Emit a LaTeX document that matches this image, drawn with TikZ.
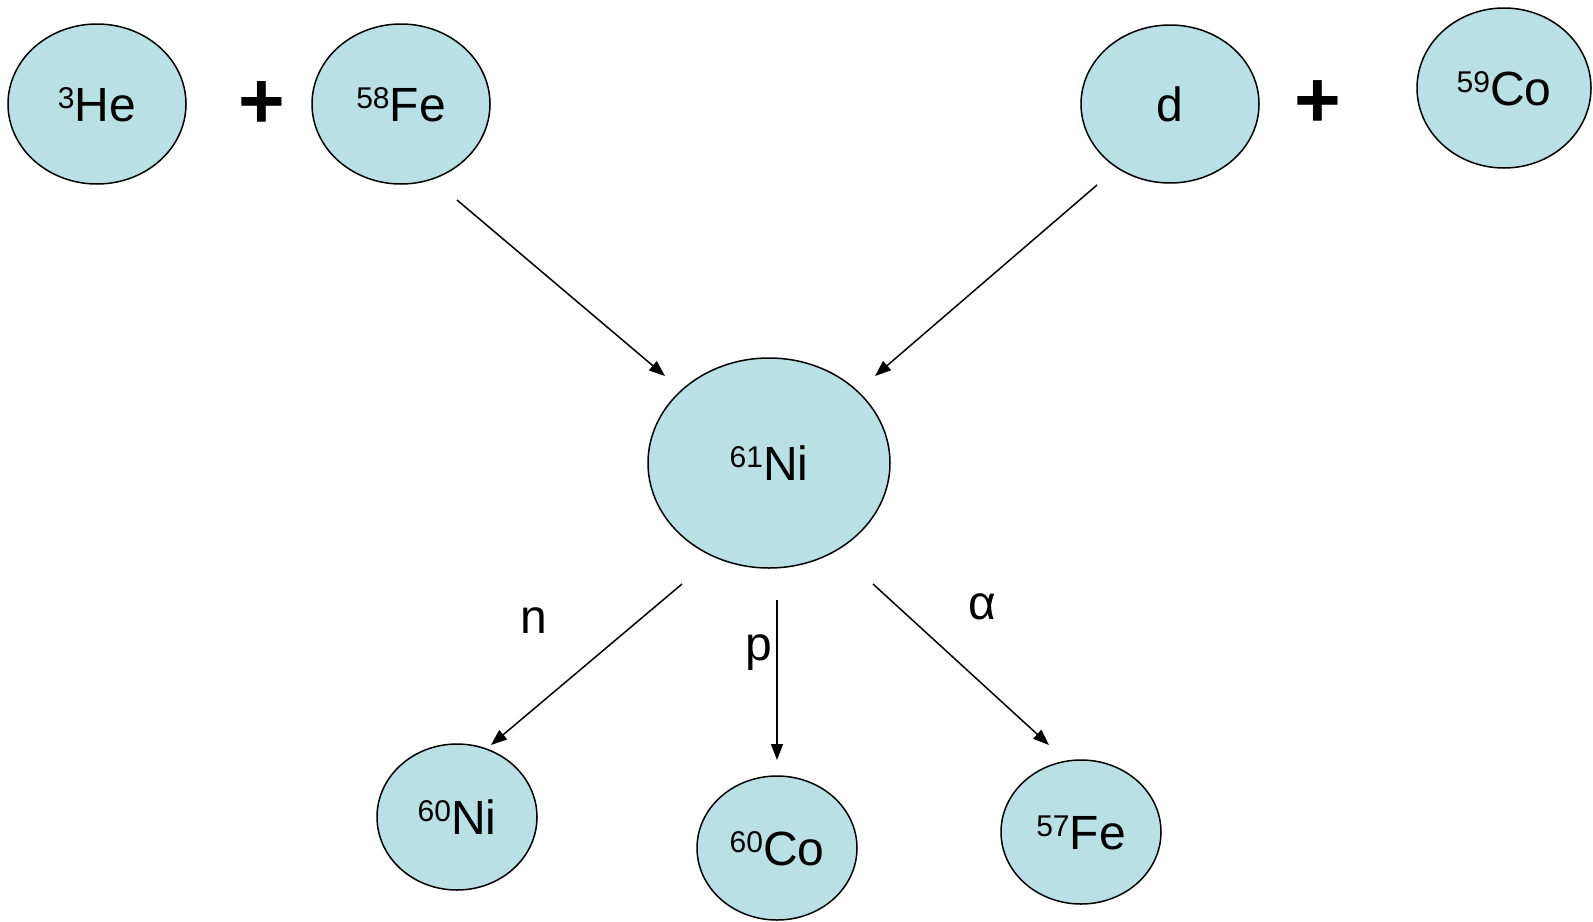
\documentclass[tikz,border=0pt]{standalone}
\usepackage{fontspec}
\setmainfont{Liberation Sans}
\usetikzlibrary{shapes.geometric,arrows.meta}
\definecolor{nucfill}{RGB}{185,224,228}
\newcommand{\isot}[2]{{\fontsize{30}{30}\selectfont\raisebox{13pt}{#1}}#2}
\tikzset{
  nuc/.style={ellipse, draw=black, line width=1.5pt, fill=nucfill, inner sep=0pt,
    font=\fontsize{48}{48}\selectfont, text height=34pt, text depth=0pt},
  plussign/.style={inner sep=0pt, font=\fontsize{80}{80}\selectfont\bfseries},
  arr/.style={line width=1.5pt, -{Triangle[length=16pt,width=12pt]}},
  lbl/.style={inner sep=0pt, anchor=base, font=\fontsize{48}{48}\selectfont}
}
\begin{document}
\begin{tikzpicture}[x=1pt,y=-1pt]
\useasboundingbox (0,0) rectangle (1593,921);
% nuclei
\node[nuc, minimum width=178pt, minimum height=160pt] (he) at (97,104) {\isot{3}{He}};
\node[nuc, minimum width=178pt, minimum height=160pt] (fe58) at (401,104) {\isot{58}{Fe}};
\node[nuc, minimum width=178pt, minimum height=158pt] (d) at (1170,104) {d};
\node[nuc, minimum width=174pt, minimum height=160pt] (co59) at (1504,88) {\isot{59}{Co}};
\node[nuc, minimum width=242pt, minimum height=210pt] (ni61) at (769,463) {\isot{61}{Ni}};
\node[nuc, minimum width=160pt, minimum height=146pt] (ni60) at (457,817) {\isot{60}{Ni}};
\node[nuc, minimum width=160pt, minimum height=144pt] (co60) at (777,848) {\isot{60}{Co}};
\node[nuc, minimum width=160pt, minimum height=144pt] (fe57) at (1081,832) {\isot{57}{Fe}};
% plus signs
\node[plussign] (plusL) at (262,105) {+};
\node[plussign] (plusR) at (1318,104) {+};
% arrow ends
\coordinate (a1s) at (457,200);
\coordinate (a1e) at (665,376);
\coordinate (a2s) at (1097,185);
\coordinate (a2e) at (875,376);
\coordinate (a3s) at (682,584);
\coordinate (a3e) at (491,745);
\coordinate (a4s) at (777,600);
\coordinate (a4e) at (777,760);
\coordinate (a5s) at (873,584);
\coordinate (a5e) at (1049,745);
\draw[arr] (a1s) -- (a1e);
\draw[arr] (a2s) -- (a2e);
\draw[arr] (a3s) -- (a3e);
\draw[arr] (a4s) -- (a4e);
\draw[arr] (a5s) -- (a5e);
% labels
\node[lbl] (ln) at (534,633) {n};
\node[lbl] (lp) at (759,660) {p};
\node[lbl] (la) at (982,619) {α};
\end{tikzpicture}
\end{document}
